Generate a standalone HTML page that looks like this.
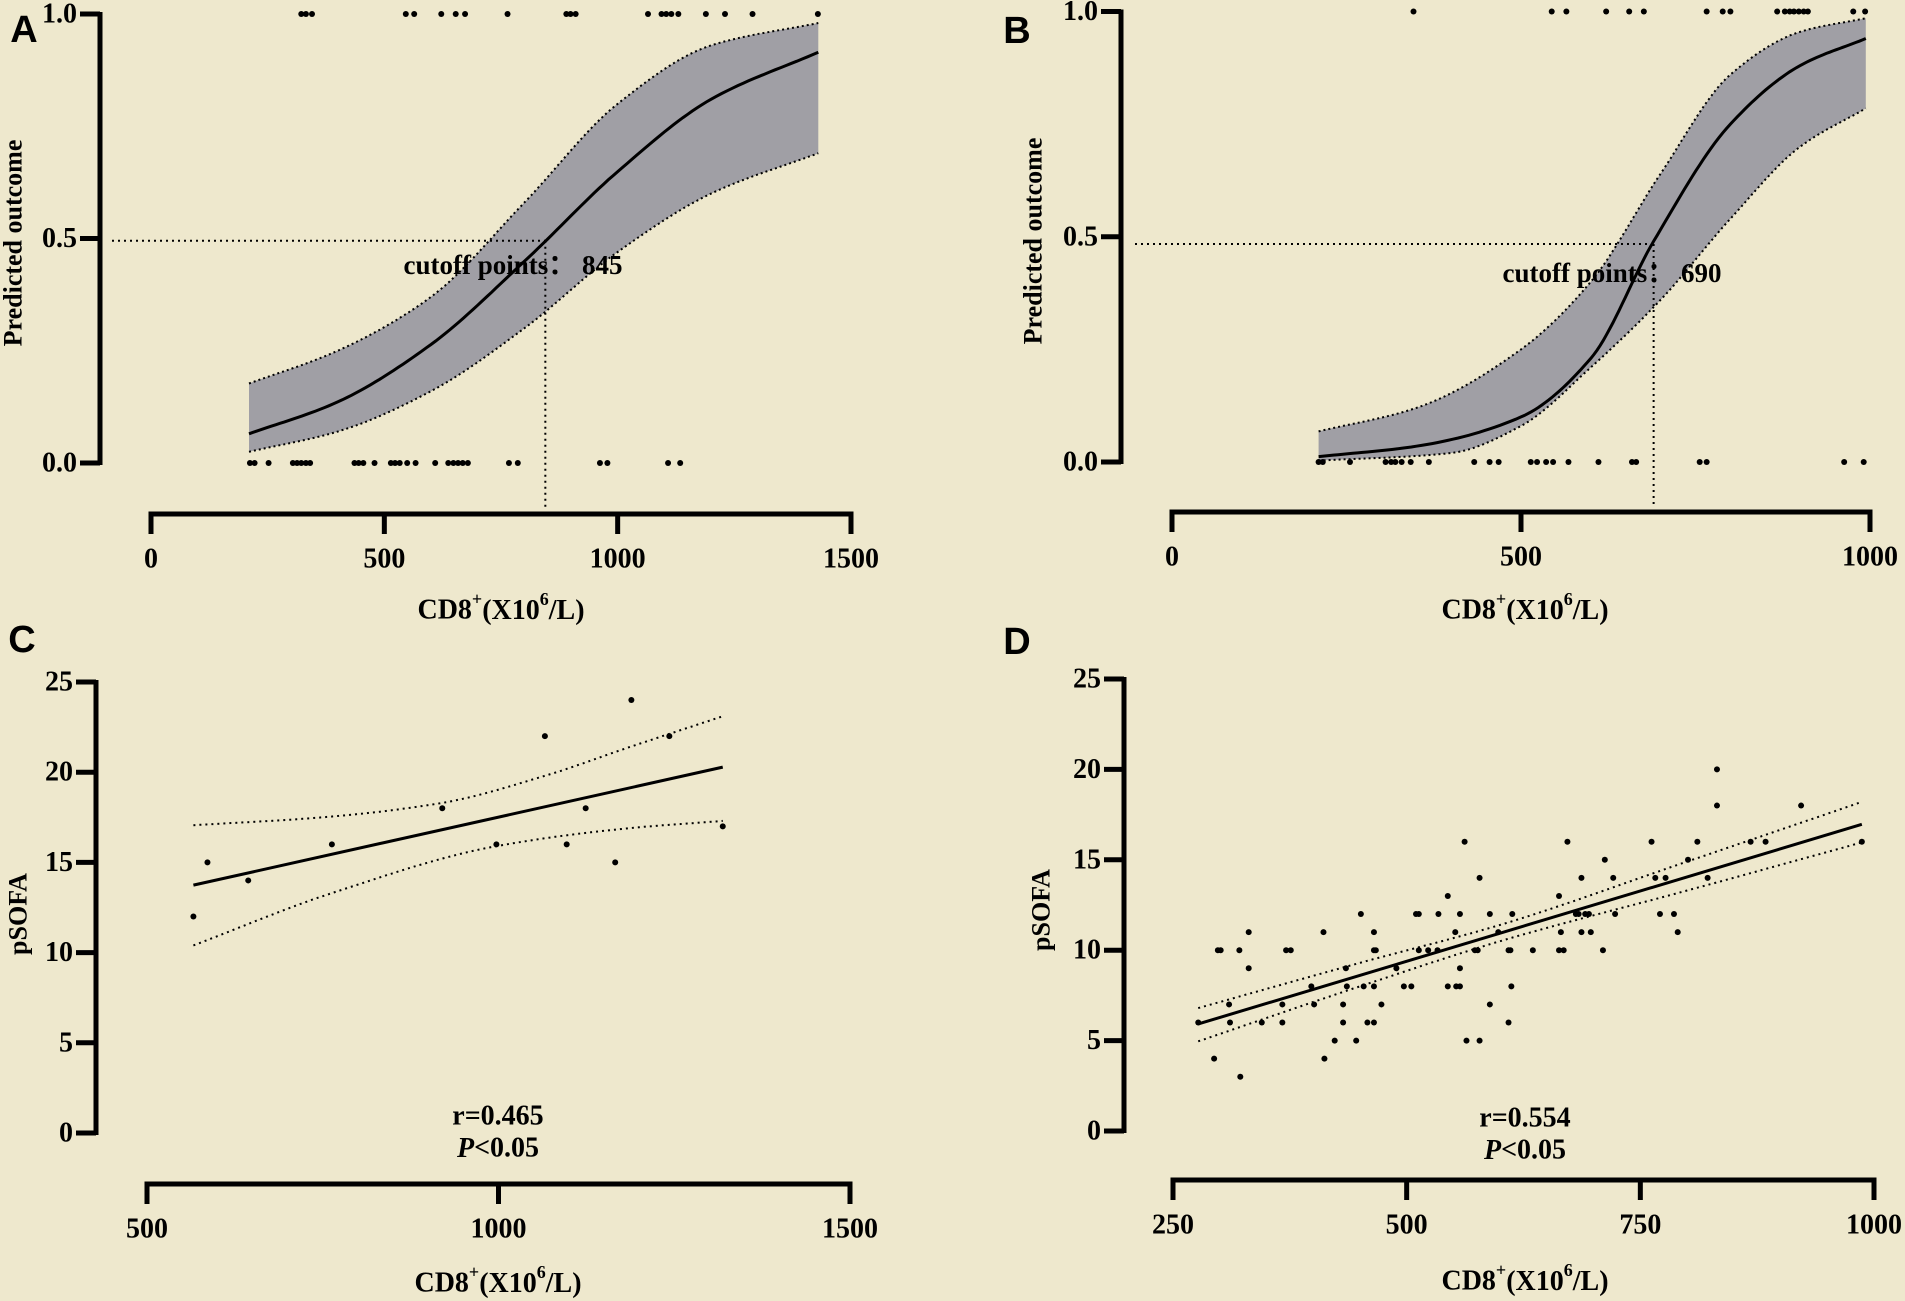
<!DOCTYPE html>
<html><head><meta charset="utf-8"><style>
html,body{margin:0;padding:0;background:#EEE8CD;}
svg{display:block;}
text{font-family:"Liberation Serif",serif;font-weight:bold;fill:#000;}
.lab{font-family:"Liberation Sans",sans-serif;font-weight:bold;}
</style></head><body>
<svg id="fig" width="1905" height="1301" viewBox="0 0 1905 1301" xmlns="http://www.w3.org/2000/svg">
<rect width="1905" height="1301" fill="#EEE8CD"/>
</svg>
<script>
// ---------- Panel A data ----------
const aCurveX = [210, 400, 600, 800, 1000, 1200, 1430];
const aCurveY = [0.065, 0.136, 0.264, 0.449, 0.649, 0.81, 0.915];
const aUpperY = [0.177, 0.25, 0.37, 0.58, 0.80, 0.93, 0.98];
const aLowerY = [0.025, 0.07, 0.16, 0.30, 0.47, 0.60, 0.69];
const aTop = [322,332,345,546,564,622,653,673,764,890,899,910,1065,1094,1104,1115,1130,1189,1230,1289,1429];
const aBottom = [212,222,252,304,313,322,332,341,436,445,455,479,514,523,533,549,567,609,637,648,658,668,679,767,786,962,978,1108,1134];
const aCutoff = 845;
const aXTicks = [0, 500, 1000, 1500];
const aYTicks = ["0.0", "0.5", "1.0"];
// ---------- Panel B data ----------
const bCurveX = [210, 350, 500, 600, 690, 800, 900, 994];
const bCurveY = [0.012, 0.035, 0.10, 0.23, 0.49, 0.75, 0.88, 0.94];
const bUpperX = [210, 350, 500, 600, 700, 800, 900, 994];
const bUpperY = [0.068, 0.12, 0.25, 0.40, 0.64, 0.86, 0.955, 0.985];
const bLowerX = [210, 400, 500, 600, 700, 800, 900, 994];
const bLowerY = [0.003, 0.02, 0.08, 0.21, 0.36, 0.54, 0.70, 0.785];
const bTop = [346,544,565,622,655,676,766,789,800,867,878,885,891,898,905,911,976,993];
const bBottom = [210,216,255,306,314,320,329,342,368,433,455,468,514,523,536,546,568,611,659,665,756,766,963,991];
const bCutoff = 690;
const bXTicks = [0, 500, 1000];
// ---------- Panel C data ----------
const cPtsX = [566,586,644,763,920,997,1066,1097,1124,1166,1189,1243,1319];
const cPtsY = [12,15,14,16,18,16,22,16,18,15,24,22,17];
const cFitX = [566, 1319];
const cFitY = [13.74, 20.28];
const cUpperX = [566, 750, 920, 1066, 1187, 1319];
const cUpperY = [17.06, 17.5, 18.3, 19.8, 21.4, 23.1];
const cLowerX = [566, 763, 997, 1187, 1319];
const cLowerY = [10.4, 13.3, 15.9, 16.9, 17.3];
const cXTicks = [500, 1000, 1500];
const sofaYTicks = [0, 5, 10, 15, 20, 25];
// ---------- Panel D data ----------
const dPtsX = [277,294,298,301,310,311,321,322,331,331,345,367,367,371,376,398,401,411,412,423,432,432,435,436,446,451,454,458,465,465,465,465,467,473,489,497,505,510,513,513,523,533,534,544,544,552,553,557,557,557,562,564,573,576,578,578,589,589,598,609,611,612,613,609,635,663,665,663,668,672,681,684,687,687,691,695,697,710,712,721,723,762,766,771,777,786,790,801,811,822,832,832,868,884,922,987];
const dPtsY = [6,4,10,10,7,6,10,3,9,11,6,7,6,10,10,8,7,11,4,5,7,6,9,8,5,12,8,6,11,10,8,6,10,7,9,8,8,12,12,10,10,10,12,13,8,11,8,8,9,12,16,5,10,10,14,5,7,12,11,10,10,8,12,6,10,13,11,10,10,16,12,12,14,11,12,12,11,10,15,14,12,16,14,12,14,12,11,15,16,14,20,18,16,16,18,16];
const dFitX = [277, 987];
const dFitY = [5.92, 16.96];
const dUpperX = [277, 450, 600, 800, 987];
const dUpperY = [6.8, 9.3, 11.4, 14.9, 18.2];
const dLowerX = [277, 450, 600, 800, 987];
const dLowerY = [4.96, 8.0, 10.5, 13.3, 15.96];
const dXTicks = [250, 500, 750, 1000];

const NS = "http://www.w3.org/2000/svg";
const svg = document.getElementById('fig');
function mk(tag, attrs, parent){
  const e = document.createElementNS(NS, tag);
  for (const k in attrs) e.setAttribute(k, attrs[k]);
  (parent||svg).appendChild(e);
  return e;
}
// monotone cubic interpolation (Fritsch-Carlson) sampled into a polyline
function monoPts(xs, ys, sx, sy){
  const n = xs.length;
  if (n < 3) return xs.map((x,i)=>[sx(x), sy(ys[i])]);
  const d = [], m = new Array(n);
  for (let i=0;i<n-1;i++) d.push((ys[i+1]-ys[i])/(xs[i+1]-xs[i]));
  m[0] = d[0]; m[n-1] = d[n-2];
  for (let i=1;i<n-1;i++){
    if (d[i-1]*d[i] <= 0) m[i] = 0;
    else { const w1 = 2*(xs[i+1]-xs[i]) + (xs[i]-xs[i-1]), w2 = (xs[i+1]-xs[i]) + 2*(xs[i]-xs[i-1]);
      m[i] = (w1+w2)/(w1/d[i-1] + w2/d[i]); }
  }
  const out = [];
  for (let i=0;i<n-1;i++){
    const h = xs[i+1]-xs[i];
    for (let s=0;s<20;s++){
      const t = s/20, t2=t*t, t3=t2*t;
      const y = (2*t3-3*t2+1)*ys[i] + (t3-2*t2+t)*h*m[i] + (-2*t3+3*t2)*ys[i+1] + (t3-t2)*h*m[i+1];
      out.push([sx(xs[i]+t*h), sy(y)]);
    }
  }
  out.push([sx(xs[n-1]), sy(ys[n-1])]);
  return out;
}
function pathD(pts){ return 'M' + pts.map(p=>p[0].toFixed(1)+','+p[1].toFixed(1)).join('L'); }
function txt(s, x, y, size, anchor, name, extra){
  const t = mk('text', Object.assign({x:x, y:y, 'font-size':size, 'text-anchor':anchor||'middle', 'dominant-baseline':'central'}, extra||{}));
  
  
  t.textContent = s;
  return t;
}
function xTitle(cx, cy, name){
  const t = mk('text', {x:cx, y:cy, 'font-size':28, 'text-anchor':'middle', 'dominant-baseline':'central'});
  
  
  t.innerHTML = 'CD8<tspan dy="-11" font-size="18">+</tspan><tspan dy="11">(X10</tspan><tspan dy="-11" font-size="18">6</tspan><tspan dy="11">/L)</tspan>';
}
function yTitle(s, x, cy, name){
  const t = mk('text', {x:0, y:0, 'font-size':26, 'text-anchor':'middle', 'dominant-baseline':'central', transform:'translate('+x+','+cy+') rotate(-90)'});
  
  
  t.textContent = s;
}
function panelLabel(s, x, y){
  const t = mk('text', {x:x, y:y, 'font-size':38, 'text-anchor':'middle', 'dominant-baseline':'central', class:'lab'});
  
  
  t.textContent = s;
}

function drawAxes(P, g){
  const ya = mk('line', {x1:P.yAxisX, y1:P.sy(P.yMax)-2, x2:P.yAxisX, y2:P.sy(P.yMin)+2, stroke:'#000', 'stroke-width':5}, g);
  
  
  P.yTickVals.forEach((v,i)=>{
    const tk = mk('line', {x1:P.yAxisX-20, y1:P.sy(v), x2:P.yAxisX, y2:P.sy(v), stroke:'#000', 'stroke-width':5}, g);
    
    
    txt(P.yTickLabels[i], P.yAxisX-23, P.sy(v), 28, 'end', 'y-tick-label');
  });
  const xa = mk('line', {x1:P.sx(P.xTicks[0])-2.5, y1:P.xAxisY, x2:P.sx(P.xTicks[P.xTicks.length-1])+2.5, y2:P.xAxisY, stroke:'#000', 'stroke-width':5}, g);
  
  
  P.xTicks.forEach(v=>{
    const tk = mk('line', {x1:P.sx(v), y1:P.xAxisY, x2:P.sx(v), y2:P.xAxisY+20, stroke:'#000', 'stroke-width':5}, g);
    
    
    txt(String(v), P.sx(v), P.xAxisY+45, 28, 'middle', 'x-tick-label');
  });
}
function dots(xs, ys, P, name, g){
  xs.forEach((x,i)=>{
    const c = mk('circle', {cx:P.sx(x), cy:P.sy(ys[i]), r:3, fill:'#000'}, g);
    
    
  });
}

function logisticPanel(P, curveX, curveY, upX, upY, loX, loY, top, bottom, cutoff, cutLabelX, cutLabelY, hLineStartX, cutY){
  const g = mk('g', {});
  
  
  const up = monoPts(upX, upY, P.sx, P.sy), lo = monoPts(loX, loY, P.sx, P.sy);
  const band = mk('path', {d:pathD(up.concat(lo.slice().reverse())) + 'Z', fill:'#a09fa5', stroke:'none'}, g);
  
  
  const ub = mk('path', {d:pathD(up), fill:'none', stroke:'#000', 'stroke-width':2, 'stroke-dasharray':'2,3'}, g);
  
  
  const lb = mk('path', {d:pathD(lo), fill:'none', stroke:'#000', 'stroke-width':2, 'stroke-dasharray':'2,3'}, g);
  
  
  const cv = mk('path', {d:pathD(monoPts(curveX, curveY, P.sx, P.sy)), fill:'none', stroke:'#000', 'stroke-width':3}, g);
  
  
  const hl = mk('line', {x1:hLineStartX, y1:P.sy(cutY), x2:P.sx(cutoff), y2:P.sy(cutY), stroke:'#000', 'stroke-width':2, 'stroke-dasharray':'2,4'}, g);
  
  
  const vl = mk('line', {x1:P.sx(cutoff), y1:P.sy(cutY), x2:P.sx(cutoff), y2:P.xAxisY-4, stroke:'#000', 'stroke-width':2, 'stroke-dasharray':'2,4'}, g);
  
  
  txt('cutoff points：  ' + cutoff, cutLabelX, cutLabelY, 27, 'middle', 'cutoff-label');
  dots(top, top.map(()=>1), P, 'outcome-dot-1', g);
  dots(bottom, bottom.map(()=>0), P, 'outcome-dot-0', g);
  drawAxes(P, g);
}
function linearPanel(P, px, py, fx, fy, ux, uy, lx, ly, rText){
  const g = mk('g', {});
  
  
  const ub = mk('path', {d:pathD(monoPts(ux, uy, P.sx, P.sy)), fill:'none', stroke:'#000', 'stroke-width':2, 'stroke-dasharray':'2,4'}, g);
  
  
  const lb = mk('path', {d:pathD(monoPts(lx, ly, P.sx, P.sy)), fill:'none', stroke:'#000', 'stroke-width':2, 'stroke-dasharray':'2,4'}, g);
  
  
  const fl = mk('line', {x1:P.sx(fx[0]), y1:P.sy(fy[0]), x2:P.sx(fx[1]), y2:P.sy(fy[1]), stroke:'#000', 'stroke-width':3}, g);
  
  
  dots(px, py, P, 'data-point', g);
  drawAxes(P, g);
  txt(rText, P.statX, P.statY, 28, 'middle', 'r-value');
  const pt = mk('text', {x:P.statX, y:P.statY+32, 'font-size':28, 'text-anchor':'middle', 'dominant-baseline':'central'}, g);
  
  
  pt.innerHTML = '<tspan font-style="italic">P</tspan>&lt;0.05';
}
function lin(d0, d1, r0, r1){ return v => r0 + (v-d0)/(d1-d0)*(r1-r0); }

// Panel A
const PA = {name:'panel-a', yAxisX:100, xAxisY:514, sx:lin(0,1500,151,851), sy:lin(0,1,463,14), yMin:0, yMax:1,
  yTickVals:[0,0.5,1], yTickLabels:aYTicks, xTicks:aXTicks};
logisticPanel(PA, aCurveX, aCurveY, aCurveX, aUpperY, aCurveX, aLowerY, aTop, aBottom, aCutoff, 513, 265, 112, 0.495);
panelLabel('A', 24, 30);
yTitle('Predicted outcome', 13, 243, 'y-axis-title');
xTitle(501, 610, 'x-axis-title');

// Panel B
const PB = {name:'panel-b', yAxisX:1121, xAxisY:512, sx:lin(0,1000,1172,1870), sy:lin(0,1,462,11.5), yMin:0, yMax:1,
  yTickVals:[0,0.5,1], yTickLabels:aYTicks, xTicks:bXTicks};
logisticPanel(PB, bCurveX, bCurveY, bUpperX, bUpperY, bLowerX, bLowerY, bTop, bBottom, bCutoff, 1612, 273, 1135, 0.484);
panelLabel('B', 1017, 31);
yTitle('Predicted outcome', 1033, 241, 'y-axis-title');
xTitle(1525, 610, 'x-axis-title');

// Panel C
const PC = {name:'panel-c', yAxisX:96, xAxisY:1184, sx:lin(500,1500,147,850), sy:lin(0,25,1133,682), yMin:0, yMax:25,
  yTickVals:sofaYTicks, yTickLabels:sofaYTicks.map(String), xTicks:cXTicks, statX:498, statY:1116};
linearPanel(PC, cPtsX, cPtsY, cFitX, cFitY, cUpperX, cUpperY, cLowerX, cLowerY, 'r=0.465');
panelLabel('C', 22, 640);
yTitle('pSOFA', 18, 914, 'y-axis-title');
xTitle(498, 1283, 'x-axis-title');

// Panel D
const PD = {name:'panel-d', yAxisX:1124, xAxisY:1180, sx:lin(250,1000,1173,1874), sy:lin(0,25,1131,679), yMin:0, yMax:25,
  yTickVals:sofaYTicks, yTickLabels:sofaYTicks.map(String), xTicks:dXTicks, statX:1525, statY:1118};
linearPanel(PD, dPtsX, dPtsY, dFitX, dFitY, dUpperX, dUpperY, dLowerX, dLowerY, 'r=0.554');
panelLabel('D', 1017, 642);
yTitle('pSOFA', 1041, 910, 'y-axis-title');
xTitle(1525, 1281, 'x-axis-title');
</script>
</body></html>
